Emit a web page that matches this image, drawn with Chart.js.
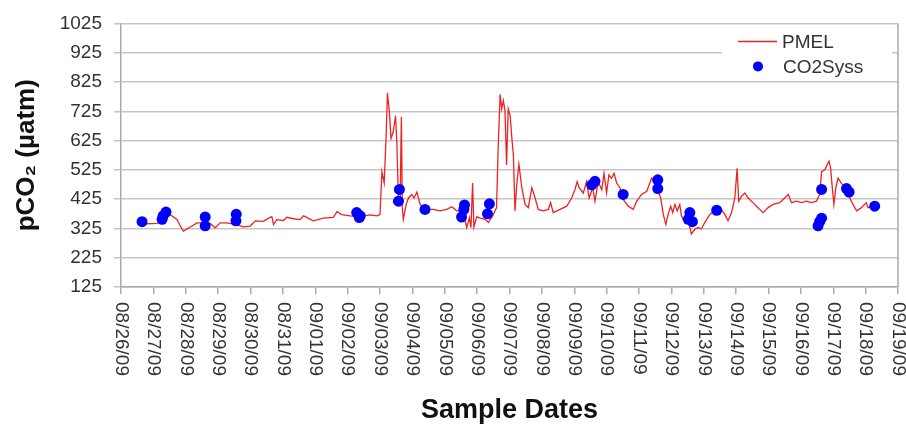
<!DOCTYPE html>
<html>
<head>
<meta charset="utf-8">
<script src="https://cdn.jsdelivr.net/npm/chart.js@4.4.1/dist/chart.umd.min.js"></script>
<style>
    html, body { margin: 0; padding: 0; background: #fff; }
    #wrap { width: 906px; height: 425px; }
</style>
</head>
<body>
<div id="wrap"><canvas id="co2Chart" width="906" height="425"></canvas></div>
<script>
// tick labels, one per day (x = days since 08/26/09)
const dateLabels = ['08/26/09', '08/27/09', '08/28/09', '08/29/09', '08/30/09', '08/31/09',
    '09/01/09', '09/02/09', '09/03/09', '09/04/09', '09/05/09', '09/06/09', '09/07/09',
    '09/08/09', '09/09/09', '09/10/09', '09/11/09', '09/12/09', '09/13/09', '09/14/09',
    '09/15/09', '09/16/09', '09/17/09', '09/18/09', '09/19/09'];

// PMEL sensor record
const pmelDays = [0.80, 1.11, 1.42, 1.52, 1.73, 1.88, 1.93, 2.14, 2.35, 2.55, 2.76, 2.91, 3.06, 3.27,
    3.58, 3.78, 3.99, 4.15, 4.40, 4.56, 4.66, 4.71, 4.81, 5.02, 5.12, 5.33, 5.53, 5.64, 5.94, 6.25,
    6.56, 6.67, 6.82, 7.08, 7.39, 7.69, 7.90, 8.00, 8.06, 8.13, 8.19, 8.23, 8.29, 8.34, 8.41, 8.48,
    8.52, 8.57, 8.62, 8.66, 8.69, 8.72, 8.81, 8.88, 8.98, 9.05, 9.14, 9.24, 9.39, 9.65, 9.85, 10.06,
    10.22, 10.37, 10.52, 10.63, 10.68, 10.76, 10.81, 10.86, 10.90, 10.99, 11.09, 11.24, 11.35, 11.50,
    11.60, 11.65, 11.71, 11.76, 11.81, 11.86, 11.91, 11.96, 12.02, 12.07, 12.12, 12.17, 12.22, 12.29,
    12.38, 12.48, 12.58, 12.69, 12.79, 12.89, 13.04, 13.20, 13.27, 13.35, 13.56, 13.77, 13.92, 14.02,
    14.09, 14.15, 14.28, 14.38, 14.46, 14.57, 14.64, 14.74, 14.85, 14.92, 15.00, 15.07, 15.15, 15.23,
    15.31, 15.41, 15.51, 15.67, 15.82, 15.93, 16.08, 16.24, 16.39, 16.49, 16.59, 16.67, 16.75, 16.83,
    16.90, 16.98, 17.04, 17.11, 17.18, 17.26, 17.31, 17.42, 17.52, 17.62, 17.73, 17.83, 17.93, 18.03,
    18.19, 18.34, 18.50, 18.65, 18.75, 18.86, 18.96, 19.03, 19.08, 19.17, 19.27, 19.37, 19.52, 19.63,
    19.73, 19.83, 19.99, 20.14, 20.35, 20.50, 20.61, 20.71, 20.86, 21.02, 21.17, 21.33, 21.48, 21.58,
    21.64, 21.74, 21.81, 21.87, 21.92, 21.97, 22.02, 22.08, 22.15, 22.25, 22.35, 22.46, 22.56, 22.72,
    22.87, 23.02, 23.07, 23.23, 23.38];
const pmelValues = [341, 342, 368, 372, 356, 323, 316, 330, 344, 344, 341, 327, 344, 344,
    338, 330, 333, 351, 349, 360, 365, 338, 355, 352, 363, 358, 355, 368, 351, 360,
    363, 382, 372, 368, 365, 371, 368, 372, 519, 480, 643, 787, 722, 632, 655, 710,
    621, 418, 407, 705, 396, 356, 407, 429, 441, 429, 449, 407, 390, 390, 385, 390,
    399, 385, 385, 351, 328, 362, 328, 480, 330, 365, 360, 357, 345, 372,
    396, 598, 783, 733, 761, 727, 542, 733, 710, 637, 575, 385, 469, 544,
    464, 407, 396, 464, 429, 390, 385, 390, 413, 379, 390, 401, 429, 457,
    485, 464, 446, 485, 429, 464, 418, 485, 457, 513, 446, 508, 496, 513,
    480, 464, 424, 401, 390, 418, 441, 452, 497, 475, 452, 429, 373, 339,
    373, 401, 379, 407, 385, 407, 368, 345, 351, 306, 323, 328, 323, 345,
    373, 385, 396, 373, 351, 379, 429, 530, 418, 435, 446, 429, 413, 401,
    390, 379, 396, 407, 413, 429, 441, 413, 418, 413, 418, 413, 418, 441,
    519, 525, 542, 555, 530, 464, 407, 464, 497, 480, 464, 441, 418, 385,
    396, 413, 396, 401, 401];

// CO2Sys calculated samples
const co2sysDays = [0.65, 1.27, 1.30, 1.39, 2.60, 2.60, 3.56, 3.55, 7.28, 7.36, 7.39, 8.60, 8.57,
    9.39, 10.61, 10.59, 10.52, 11.38, 11.32, 14.54, 14.64, 15.51, 16.58, 16.58, 17.57, 17.52, 17.65,
    18.40, 21.64, 21.64, 21.53, 21.58, 22.41, 22.49, 23.28];
const co2sysValues = [348, 356, 368, 381, 364, 334, 373, 351, 379, 362, 368, 458, 418,
    390, 405, 390, 364, 409, 375, 474, 486, 441, 491, 461, 379, 356, 348,
    387, 458, 360, 334, 348, 461, 449, 401];

const yTicks = [125, 225, 325, 425, 525, 625, 725, 825, 925, 1025];

const FONT = '"Liberation Sans", Arial, sans-serif';
const lineColor = 'rgb(238, 34, 34)';
const dotColor = '#0000ff';

Chart.defaults.font.family = FONT;

// x labels run top-to-bottom, Chart.js only rotates the other way so draw them here
const dateTickLabels = {
    id: 'dateTickLabels',
    afterDraw(chart) {
        const ctx = chart.ctx;
        const xs = chart.scales.x;
        ctx.save();
        ctx.font = '19px ' + FONT;
        ctx.fillStyle = '#333';
        ctx.textAlign = 'left';
        ctx.textBaseline = 'middle';
        xs.ticks.forEach((t) => {
            const px = xs.getPixelForValue(t.value);
            ctx.save();
            ctx.translate(px, chart.chartArea.bottom + 15);
            ctx.rotate(Math.PI / 2);
            ctx.fillText(dateLabels[t.value], 0, 0);
            ctx.restore();
        });
        ctx.restore();
    },
};

// right side frame line
const rightFrame = {
    id: 'rightFrame',
    afterDraw(chart) {
        const { ctx, chartArea } = chart;
        ctx.save();
        ctx.strokeStyle = '#aaa';
        ctx.lineWidth = 1.5;
        ctx.beginPath();
        ctx.moveTo(chartArea.right, chartArea.top);
        ctx.lineTo(chartArea.right, chartArea.bottom);
        ctx.stroke();
        ctx.restore();
    },
};

// legend box sits inside the plot, top right
const insideLegend = {
    id: 'insideLegend',
    afterDraw(chart) {
        const { ctx, chartArea } = chart;
        const left = chartArea.right - 176;
        const top = chartArea.top + 3;
        ctx.save();
        ctx.fillStyle = '#fff';
        ctx.fillRect(left, top, 170, 50);
        ctx.font = '19px ' + FONT;
        ctx.fillStyle = '#333';
        ctx.textAlign = 'left';
        ctx.textBaseline = 'middle';

        ctx.strokeStyle = lineColor;
        ctx.lineWidth = 1.5;
        ctx.beginPath();
        ctx.moveTo(left + 16, top + 15);
        ctx.lineTo(left + 55, top + 15);
        ctx.stroke();
        ctx.fillText(chart.data.datasets[1].label, left + 60, top + 16);

        ctx.fillStyle = dotColor;
        ctx.beginPath();
        ctx.arc(left + 36, top + 40, 5, 0, Math.PI * 2);
        ctx.fill();
        ctx.fillStyle = '#333';
        ctx.fillText(chart.data.datasets[0].label, left + 61, top + 41);
        ctx.restore();
    },
};

new Chart(document.getElementById('co2Chart'), {
    data: {
        datasets: [
            {
                type: 'scatter',
                label: 'CO2Syss',
                data: co2sysDays.map((d, i) => ({ x: d, y: co2sysValues[i] })),
                backgroundColor: dotColor,
                borderWidth: 0,
                pointRadius: 5.5,
                order: 0,
            },
            {
                type: 'line',
                label: 'PMEL',
                data: pmelDays.map((d, i) => ({ x: d, y: pmelValues[i] })),
                borderColor: lineColor,
                borderWidth: 1.3,
                pointRadius: 0,
                tension: 0,
                fill: false,
                order: 1,
            },
        ],
    },
    options: {
        responsive: false,
        animation: false,
        layout: {
            padding: { top: 20, right: 8, bottom: 0, left: 0 },
        },
        plugins: {
            legend: { display: false },
            tooltip: { enabled: false },
        },
        scales: {
            x: {
                type: 'linear',
                min: 0,
                max: dateLabels.length - 1,
                ticks: {
                    stepSize: 1,
                    display: false,
                },
                grid: {
                    drawOnChartArea: false,
                    drawTicks: true,
                    tickLength: 7,
                    color: '#aaa',
                    lineWidth: 1.5,
                },
                border: { display: true, color: '#aaa', width: 1.5 },
                title: {
                    display: true,
                    text: 'Sample Dates',
                    color: '#111',
                    font: { size: 27, weight: 'bold', lineHeight: 1.0 },
                    padding: { top: 0, bottom: 1 },
                },
                afterFit: (scale) => { scale.height = 138; },
            },
            y: {
                min: yTicks[0],
                max: yTicks[yTicks.length - 1],
                afterBuildTicks: (scale) => {
                    scale.ticks = yTicks.map((v) => ({ value: v }));
                },
                ticks: {
                    color: '#333',
                    font: { size: 19 },
                    padding: 12,
                    callback: (value) => String(value), // no thousands comma
                },
                grid: {
                    color: '#c6c6c6',
                    lineWidth: 1.5,
                    tickLength: 7,
                },
                border: { display: true, color: '#aaa', width: 1.5 },
                title: {
                    display: true,
                    text: 'pCO₂ (µatm)',
                    color: '#111',
                    font: { size: 26, weight: 'bold' },
                    padding: { top: 11, bottom: 0 },
                },
                afterFit: (scale) => { scale.width = 121; },
            },
        },
    },
    plugins: [rightFrame, dateTickLabels, insideLegend],
});
</script>
</body>
</html>
